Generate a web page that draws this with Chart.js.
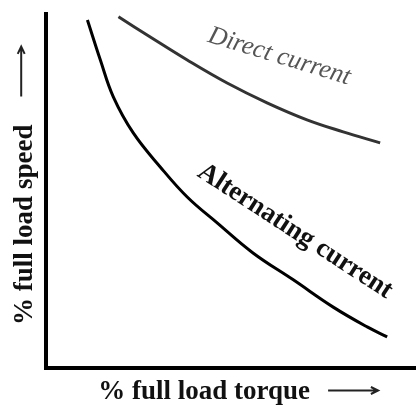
<!DOCTYPE html>
<html>
<head>
<meta charset="utf-8">
<script src="https://cdn.jsdelivr.net/npm/chart.js@4"></script>
<style>
  body { margin: 0; background: #fff; }
  #wrap { width: 416px; height: 407px; }
</style>
</head>
<body>
<div id="wrap"><canvas id="chart"></canvas></div>
<script>
// curves, in % of full load (torque, speed)
const acTorque = [11.1, 14.6, 18.1, 23.5, 30.8, 38.1, 46.2, 55.9, 66.8, 77.6, 86.8, 92.2]
const acSpeed  = [98.3, 87.0, 76.6, 66.4, 56.8, 48.3, 41.0, 32.5, 24.9, 17.2, 11.6, 8.8]
const dcTorque = [19.5, 28.1, 38.1, 48.9, 59.7, 70.5, 80.3, 90.3]
const dcSpeed  = [99.2, 93.5, 87.0, 80.5, 74.9, 70.1, 66.7, 63.6]

const curveNames = ['Direct current', 'Alternating current']
const labelAt = [[63, 88], [67.3, 38.6]]   // data position of each curve label
const xName = '% full load torque'
const yName = '% full load speed'
// trailing spaces leave room for the arrow drawn after the title
const xTitle = xName + '\u2002\u2002\u2002\u2002'
const yTitle = yName + '\u2002\u2002\u2002\u2002\u2002'

const TITLE_FONT = '600 27px "Liberation Serif"'

function toPoints(xs, ys) {
    return xs.map((x, i) => ({x: x, y: ys[i]}));
}

function arrow(ctx, x0, y0, x1, y1) {
    const a = Math.atan2(y1 - y0, x1 - x0);
    ctx.beginPath();
    ctx.moveTo(x0, y0);
    ctx.lineTo(x1, y1);
    ctx.moveTo(x1 - 8 * Math.cos(a - 0.45), y1 - 8 * Math.sin(a - 0.45));
    ctx.lineTo(x1, y1);
    ctx.lineTo(x1 - 8 * Math.cos(a + 0.45), y1 - 8 * Math.sin(a + 0.45));
    ctx.stroke();
}

const curveLabels = {
    id: 'curveLabels',
    afterDatasetsDraw(chart) {
        const ctx = chart.ctx;
        const xs = chart.scales.x, ys = chart.scales.y;
        const styles = [
            {font: 'italic 26px "Liberation Serif"', color: '#555', angle: 17},
            {font: '600 27px "Liberation Serif"', color: '#111', angle: 33}
        ];
        curveNames.forEach((name, i) => {
            const s = styles[i];
            ctx.save();
            ctx.translate(xs.getPixelForValue(labelAt[i][0]), ys.getPixelForValue(labelAt[i][1]));
            ctx.rotate(s.angle * Math.PI / 180);
            ctx.font = s.font;
            ctx.fillStyle = s.color;
            ctx.textAlign = 'center';
            ctx.textBaseline = 'middle';
            ctx.fillText(name, 0, 0);
            ctx.restore();
        });
    },
    afterDraw(chart) {
        const ctx = chart.ctx;
        const area = chart.chartArea;
        ctx.save();
        ctx.font = TITLE_FONT;
        ctx.strokeStyle = '#222';
        ctx.lineWidth = 2;
        // x title arrow
        let full = ctx.measureText(xTitle).width, part = ctx.measureText(xName).width;
        let start = (area.left + area.right) / 2 - full / 2 + part + 18;
        let ty = area.bottom + 11 + 13.5 - 2;
        arrow(ctx, start, ty, start + 50, ty);
        // y title arrow
        full = ctx.measureText(yTitle).width; part = ctx.measureText(yName).width;
        start = (area.top + area.bottom) / 2 + full / 2 - part - 28;
        const tx = chart.scales.y.left + 3 + 16.2 - 4;
        arrow(ctx, tx, start, tx, start - 50);
        ctx.restore();
    }
};

const ctx = document.getElementById('chart').getContext('2d');
new Chart(ctx, {
    type: 'line',
    data: {
        datasets: [{
            label: curveNames[0],
            data: toPoints(dcTorque, dcSpeed),
            borderColor: '#333',
            borderWidth: 3,
            pointRadius: 0,
            tension: 0.4
        }, {
            label: curveNames[1],
            data: toPoints(acTorque, acSpeed),
            borderColor: '#000',
            borderWidth: 3,
            pointRadius: 0,
            tension: 0.4
        }]
    },
    options: {
        responsive: true,
        maintainAspectRatio: false,
        animation: false,
        layout: { padding: {top: 14, left: 6, right: 0, bottom: 0} },
        scales: {
            x: {
                type: 'linear',
                min: 0,
                max: 100,
                ticks: { display: false },
                grid: { display: false, drawTicks: false },
                border: { display: true, color: '#000', width: 4 },
                title: {
                    display: true,
                    text: xTitle,
                    color: '#111',
                    font: { family: '"Liberation Serif"', size: 27, weight: '600', lineHeight: 1 },
                    padding: {top: 11, bottom: 1}
                }
            },
            y: {
                type: 'linear',
                min: 0,
                max: 100,
                ticks: { display: false },
                grid: { display: false, drawTicks: false },
                border: { display: true, color: '#000', width: 4 },
                title: {
                    display: true,
                    text: yTitle,
                    color: '#111',
                    font: { family: '"Liberation Serif"', size: 27, weight: '600' },
                    padding: {top: 3, bottom: 5}
                }
            }
        },
        plugins: {
            legend: { display: false },
            tooltip: { enabled: false }
        }
    },
    plugins: [curveLabels]
});
</script>
</body>
</html>
